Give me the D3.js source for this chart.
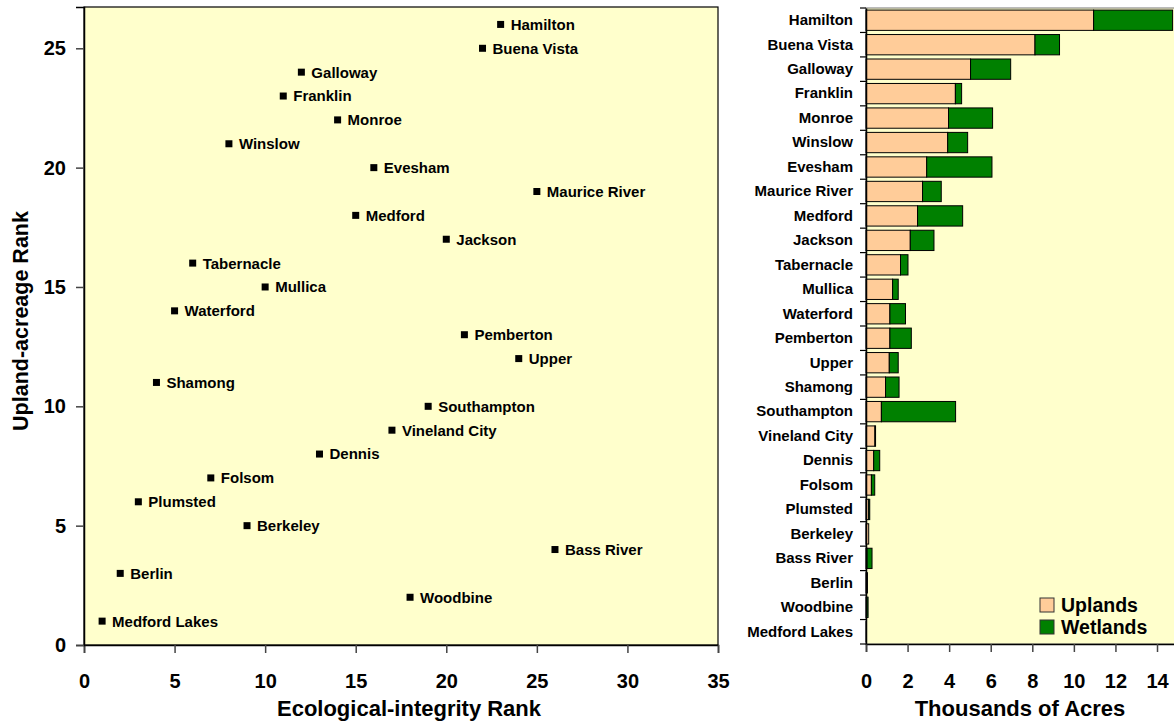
<!DOCTYPE html>
<html lang="en">
<head>
<meta charset="UTF-8">
<title>Townships</title>
<script src="https://cdn.jsdelivr.net/npm/d3@7"></script>
<style>
	html,body{margin:0;padding:0;background:#fff;}
	svg{display:block;font-family:"Liberation Sans",Arial,sans-serif;font-weight:bold;}
</style>
</head>
<body>
<svg id="chart" width="1174" height="721"></svg>
<script>
// townships, in rank order (top of bar chart first)
var towns = ["Hamilton","Buena Vista","Galloway","Franklin","Monroe","Winslow","Evesham",
	"Maurice River","Medford","Jackson","Tabernacle","Mullica","Waterford","Pemberton",
	"Upper","Shamong","Southampton","Vineland City","Dennis","Folsom","Plumsted",
	"Berkeley","Bass River","Berlin","Woodbine","Medford Lakes"];
var ecoRank = [23,22,12,11,14,8,16,25,15,20,6,10,5,21,24,4,19,17,13,7,3,9,26,2,18,1];
var uplandRank = [26,25,24,23,22,21,20,19,18,17,16,15,14,13,12,11,10,9,8,7,6,5,4,3,2,1];
// thousands of acres
var uplands = [10.95,8.13,5.03,4.30,3.97,3.93,2.92,2.72,2.48,2.13,1.66,1.28,1.15,1.15,1.12,0.94,0.74,0.43,0.37,0.26,0.13,0.13,0.05,0.07,0.04,0.01];
var wetlands = [3.80,1.18,1.93,0.30,2.12,0.96,3.14,0.90,2.17,1.14,0.36,0.27,0.75,1.03,0.43,0.65,3.57,0.03,0.29,0.16,0.05,0.0,0.24,0.0,0.06,0.0];
var xTicks = [0,5,10,15,20,25,30,35];
var yTicks = [0,5,10,15,20,25];
var barTicks = [0,2,4,6,8,10,12,14];

var svg = d3.select("#chart");
var bg = "#FFFFCC";

function styleAxis(g, size){
	g.select(".domain").attr("stroke","#000").attr("stroke-width",1.5);
	g.selectAll(".tick line").attr("stroke","#444").attr("stroke-width",1.5);
	g.selectAll(".tick text").attr("font-size",size).attr("font-weight","bold")
		.attr("font-family","Liberation Sans, Arial, sans-serif").attr("fill","#000");
}

// ---------- scatter ----------
var x = d3.scaleLinear().domain([0,35]).range([84,718]);
var y = d3.scaleLinear().domain([0,26.73]).range([645,7]);

svg.append("rect").attr("x",84).attr("y",7).attr("width",634).attr("height",638)
	.attr("fill",bg).attr("stroke","#000").attr("stroke-width",1.2);

var gx = svg.append("g").attr("transform","translate(0,645)")
	.call(d3.axisBottom(x).tickValues(xTicks).tickSize(8).tickPadding(21));
styleAxis(gx, 20);
var gy = svg.append("g").attr("transform","translate(84,0)")
	.call(d3.axisLeft(y).tickValues(yTicks).tickSize(8).tickPadding(10));
styleAxis(gy, 20);

var pts = svg.append("g").selectAll("g").data(towns).join("g")
	.attr("transform",function(d,i){ return "translate("+x(ecoRank[i])+","+y(uplandRank[i])+")"; });
pts.append("rect").attr("x",-3.5).attr("y",-3.5).attr("width",7).attr("height",7).attr("fill","#000");
pts.append("text").attr("x",10).attr("dy","0.36em").attr("font-size",15).text(function(d){ return d; });

svg.append("text").attr("x",409).attr("y",716).attr("text-anchor","middle")
	.attr("font-size",22).text("Ecological-integrity Rank");
svg.append("text").attr("transform","translate(28,321) rotate(-90)").attr("text-anchor","middle")
	.attr("font-size",21.5).text("Upland-acreage Rank");

// ---------- stacked bars ----------
var bx = d3.scaleLinear().domain([0,15]).range([866,1177.8]);
var by = d3.scaleBand().domain(towns).range([8,644]).paddingInner(0.17).paddingOuter(0.085);

svg.append("rect").attr("x",866).attr("y",8).attr("width",320).attr("height",636)
	.attr("fill",bg).attr("stroke","#777").attr("stroke-width",1);

var rows = svg.append("g").selectAll("g").data(towns).join("g");
rows.append("rect").attr("x",bx(0)).attr("y",function(d){ return by(d); })
	.attr("width",function(d,i){ return bx(uplands[i])-bx(0); }).attr("height",by.bandwidth())
	.attr("fill","#FFCC99").attr("stroke","#000").attr("stroke-width",1);
rows.append("rect").attr("x",function(d,i){ return bx(uplands[i]); }).attr("y",function(d){ return by(d); })
	.attr("width",function(d,i){ return bx(uplands[i]+wetlands[i])-bx(uplands[i]); }).attr("height",by.bandwidth())
	.attr("fill","#008000").attr("stroke","#000").attr("stroke-width",1);

var gbx = svg.append("g").attr("transform","translate(0,644)")
	.call(d3.axisBottom(bx).tickValues(barTicks).tickSize(8).tickPadding(22));
styleAxis(gbx, 20);

var gby = svg.append("g").attr("transform","translate(866,0)")
	.call(d3.axisLeft(by).tickSize(0).tickPadding(13));
styleAxis(gby, 15);
// ticks between categories
var step = by.step();
svg.append("g").selectAll("line").data(d3.range(towns.length+1)).join("line")
	.attr("x1",860).attr("x2",866)
	.attr("y1",function(i){ return 8 + i*step; }).attr("y2",function(i){ return 8 + i*step; })
	.attr("stroke","#000").attr("stroke-width",1.2);

svg.append("text").attr("x",1020).attr("y",716).attr("text-anchor","middle")
	.attr("font-size",22).text("Thousands of Acres");

// legend
var legend = [["Uplands","#FFCC99"],["Wetlands","#008000"]];
var lg = svg.append("g").selectAll("g").data(legend).join("g")
	.attr("transform",function(d,i){ return "translate(1040,"+(598+i*22)+")"; });
lg.append("rect").attr("width",14).attr("height",14).attr("fill",function(d){ return d[1]; })
	.attr("stroke","#333").attr("stroke-width",1);
lg.append("text").attr("x",21).attr("y",7).attr("dy","0.36em").attr("font-size",19.5)
	.text(function(d){ return d[0]; });
</script>
</body>
</html>
